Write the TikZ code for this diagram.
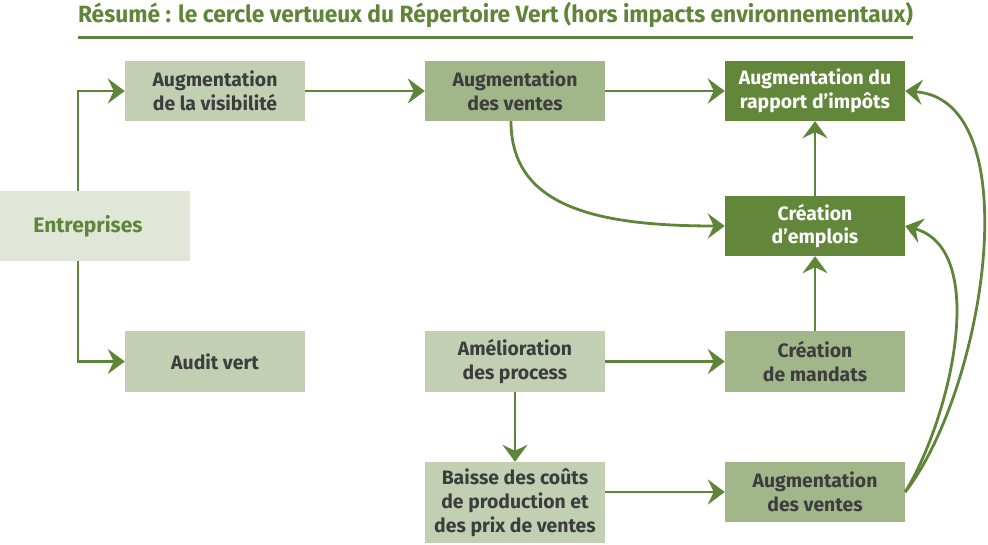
\documentclass[tikz,border=0pt]{standalone}
\usepackage{fontspec}
\setmainfont{Fira Sans}
\usepackage{graphicx}
\usetikzlibrary{arrows.meta}
\definecolor{grn}{HTML}{5F8538}
\definecolor{dk}{HTML}{62873A}
\definecolor{md}{HTML}{A1B689}
\definecolor{lt}{HTML}{C2CFB3}
\definecolor{xl}{HTML}{E0E6D8}
\definecolor{txt}{HTML}{3D3D3D}
\begin{document}
\begin{tikzpicture}[x=1pt,y=-1pt,
  box/.style={minimum width=180pt, minimum height=60pt, inner sep=0pt, align=center,
    font=\fontsize{19.4}{23.7}\selectfont\bfseries, text=txt},
  ltbox/.style={box, fill=lt},
  mdbox/.style={box, fill=md},
  dkbox/.style={box, fill=dk, text=white},
  arr/.style={draw=grn, line width=2.8pt, -{Stealth[length=17pt,width=25pt,inset=6pt]}}]
\useasboundingbox (0,0) rectangle (988,545);
\node[anchor=base, text=grn, font=\fontsize{23.5}{26}\selectfont\bfseries, inner sep=0pt] (title) at (495.5,23)
  {\resizebox{835pt}{\height}{Résumé : le cercle vertueux du Répertoire Vert (hors impacts environnementaux)}};
\draw[grn, line width=3pt] (78,38) -- (913,38);
\node[box, fill=xl, minimum width=190pt, minimum height=70pt, text=grn,
  font=\fontsize{21}{24}\selectfont\bfseries] (ent) at (95,226) {Entreprises\hspace*{14pt}};
\node[ltbox] (vis) at (215,91) {Augmentation\\de la visibilité};
\node[ltbox] (audit) at (215,361.5) {Audit vert};
\node[mdbox] (v1) at (515,91) {Augmentation\\des ventes};
\node[dkbox] (imp) at (815,91) {Augmentation du\\rapport d’impôts};
\node[dkbox] (emp) at (815,226) {Création\\d’emplois};
\node[ltbox] (amel) at (515,361.5) {Amélioration\\des process};
\node[mdbox] (mand) at (815,361.5) {Création\\de mandats};
\node[ltbox, minimum height=81pt] (baisse) at (515,502.5) {Baisse des coûts\\de production et\\des prix de ventes};
\node[mdbox] (v2) at (815,492) {Augmentation\\des ventes};
\draw[arr] ([xshift=-17pt]ent.north) |- (vis.west);
\draw[arr] ([xshift=-17pt]ent.south) |- (audit.west);
\draw[arr] (vis) -- (v1);
\draw[arr] (v1) -- (imp);
\draw[arr] ([xshift=-4pt]v1.south) .. controls +(0,85) and +(-130,0) .. (emp.west);
\draw[arr] (emp) -- (imp);
\draw[arr] (mand) -- (emp);
\draw[arr] (amel) -- (mand);
\draw[arr] (amel) -- (baisse);
\draw[arr] (v2.west -| baisse.east) -- (v2.west);
\draw[arr] (v2.east) .. controls +(80,-103) and +(125,9) .. (imp.east);
\draw[arr] (v2.east) .. controls +(45,-73) and +(85,24) .. (emp.east);
\end{tikzpicture}
\end{document}
